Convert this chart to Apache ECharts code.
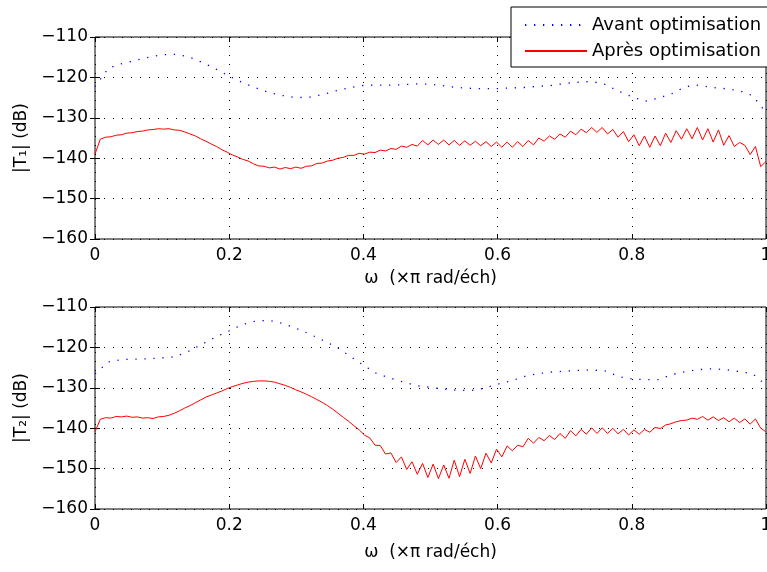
<!DOCTYPE html>
<html><head><meta charset="utf-8">
<script src="https://cdn.jsdelivr.net/npm/echarts@6/dist/echarts.min.js"></script>
<style>html,body{margin:0;padding:0;background:#fff}#c{width:767px;height:572px}</style>
</head><body><div id="c"></div>
<script>
// ---- data ----
const seriesNames = ['Avant optimisation', 'Après optimisation'];
const xName = 'ω  (×π rad/éch)';
const yNames = ['|T₁| (dB)', '|T₂| (dB)'];
const xTicks = {min: 0, max: 1, interval: 0.2};
const yTicks = {min: -160, max: -110, interval: 10};

// red curves: 128 frequency samples over [0, 1]
const nRed = 128;
const topRed = [-139.0,-135.3,-134.8,-134.7,-134.3,-134.2,-133.8,-133.7,-133.4,-133.3,
 -133.0,-132.9,-132.7,-132.8,-132.7,-133.0,-133.1,-133.5,-134.0,-134.5,
 -135.2,-135.8,-136.5,-137.1,-137.9,-138.5,-139.2,-139.7,-140.3,-140.7,
 -141.4,-141.9,-142.0,-142.4,-142.2,-142.7,-142.3,-142.6,-142.2,-142.5,
 -142.0,-141.9,-141.3,-141.2,-140.7,-140.5,-140.0,-139.8,-139.3,-139.3,
 -138.8,-139.0,-138.5,-138.6,-138.0,-138.2,-137.6,-137.8,-137.0,-137.3,
 -136.6,-137.0,-135.6,-136.7,-135.5,-136.6,-135.5,-136.7,-135.6,-136.8,
 -135.7,-136.8,-135.8,-136.9,-135.9,-137.1,-136.0,-137.3,-136.0,-137.3,
 -135.9,-137.1,-135.6,-136.7,-135.0,-135.8,-134.5,-135.3,-134.0,-134.8,
 -133.3,-134.2,-132.8,-133.7,-132.4,-133.6,-132.4,-134.0,-132.9,-134.8,
 -133.4,-135.9,-134.2,-136.9,-134.5,-137.3,-134.5,-136.9,-133.8,-136.1,
 -133.2,-135.3,-132.7,-135.2,-132.4,-135.5,-132.7,-136.0,-133.0,-136.8,
 -134.4,-137.1,-136.1,-136.8,-139.1,-137.1,-142.1,-140.8];
const bottomRed = [-140.9,-137.8,-137.4,-137.5,-137.1,-137.2,-137.0,-137.3,-137.2,-137.5,
 -137.4,-137.6,-137.2,-137.1,-136.8,-136.3,-135.7,-135.0,-134.4,-133.7,
 -133.0,-132.3,-131.8,-131.3,-130.8,-130.2,-129.7,-129.3,-128.9,-128.6,
 -128.4,-128.3,-128.3,-128.4,-128.6,-129.0,-129.4,-129.9,-130.5,-131.0,
 -131.6,-132.2,-132.9,-133.6,-134.4,-135.3,-136.3,-137.3,-138.3,-139.4,
 -140.4,-141.7,-142.4,-144.2,-144.3,-146.4,-146.1,-148.5,-147.1,-150.2,
 -148.3,-151.4,-148.7,-152.2,-148.9,-152.5,-149.1,-152.4,-147.9,-152.0,
 -147.7,-151.2,-146.9,-150.0,-146.2,-148.6,-145.2,-147.1,-144.4,-145.6,
 -144.2,-144.6,-142.5,-143.7,-142.3,-143.1,-141.8,-142.8,-141.3,-142.5,
 -140.6,-141.9,-140.3,-141.5,-139.9,-141.3,-139.9,-141.3,-140.0,-141.4,
 -140.3,-141.7,-140.4,-141.5,-140.3,-141.0,-139.8,-140.1,-139.2,-138.9,
 -138.4,-138.1,-138.0,-137.5,-137.8,-137.1,-138.0,-137.2,-138.1,-137.4,
 -138.4,-137.5,-138.6,-137.7,-139.0,-137.7,-140.0,-140.9];

// blue curves: 51 frequency samples over [0, 1]
const nBlue = 51;
const topBlue = [-122.3,-117.7,-116.6,-115.8,-115.0,-114.4,-114.3,-114.9,-116.3,-117.9,
 -119.7,-121.3,-122.6,-123.8,-124.5,-125.0,-124.9,-124.2,-123.3,-122.5,
 -122.0,-121.9,-121.9,-121.8,-121.6,-121.7,-122.1,-122.5,-122.7,-122.8,
 -122.8,-122.6,-122.5,-122.2,-122.0,-121.5,-121.2,-121.0,-121.7,-123.4,
 -124.8,-125.9,-125.1,-124.0,-122.3,-121.9,-122.5,-122.8,-123.3,-124.5,
 -128.7];
const bottomBlue = [-126.5,-123.6,-123.0,-122.9,-122.8,-122.6,-122.3,-120.9,-119.2,-117.4,
 -115.9,-114.3,-113.5,-113.3,-114.1,-115.3,-116.7,-118.3,-119.9,-122.2,
 -124.4,-126.5,-127.6,-128.6,-129.5,-129.9,-130.3,-130.6,-130.7,-130.1,
 -129.1,-128.3,-127.2,-126.5,-126.1,-125.9,-125.7,-125.6,-125.8,-127.2,
 -127.8,-128.0,-128.0,-126.7,-126.0,-125.5,-125.3,-125.5,-126.0,-126.5,
 -129.3];

// ---- chart ----
const freqRed = Array.from({length: nRed}, (_, i) => i / (nRed - 1));
const freqBlue = Array.from({length: nBlue}, (_, i) => i / (nBlue - 1));
const pairs = (xs, ys) => xs.map((x, i) => [x, ys[i]]);

const FONT = 'DejaVu Sans';
const txt = {color: '#000', fontFamily: FONT, fontSize: 17};
const dotted = {show: true, lineStyle: {color: '#000', width: 1, type: [1, 8]}};
const tickIn = {show: true, inside: true, length: 5, lineStyle: {color: '#000', width: 1}};
const minus = v => String(v).replace('-', '\u2212');

function xAxes(g, gap) {
  return [
    Object.assign({gridIndex: g, type: 'value', position: 'bottom',
      axisLine: {show: false}, axisTick: tickIn,
      axisLabel: Object.assign({margin: 8, formatter: v => String(v)}, txt),
      splitLine: dotted, name: xName, nameLocation: 'middle', nameGap: gap,
      nameTextStyle: txt}, xTicks),
    Object.assign({gridIndex: g, type: 'value', position: 'top',
      axisLine: {show: false}, axisTick: tickIn, axisLabel: {show: false},
      splitLine: {show: false}}, xTicks)
  ];
}
function yAxes(g) {
  return [
    Object.assign({gridIndex: g, type: 'value', position: 'left',
      axisLine: {show: false}, axisTick: tickIn,
      axisLabel: Object.assign({margin: 7, formatter: minus}, txt),
      splitLine: dotted, name: yNames[g], nameLocation: 'middle', nameGap: 58,
      nameRotate: 90, nameTextStyle: txt}, yTicks),
    Object.assign({gridIndex: g, type: 'value', position: 'right',
      axisLine: {show: false}, axisTick: tickIn, axisLabel: {show: false},
      splitLine: {show: false}}, yTicks)
  ];
}
function blue(name, xi, yi, vals) {
  return {type: 'line', name, xAxisIndex: xi, yAxisIndex: yi, data: pairs(freqBlue, vals),
    symbol: 'none', showSymbol: false, itemStyle: {color: '#0000ff'},
    lineStyle: {color: '#0000ff', width: 1.3, type: [1.3, 7.7]}, z: 3};
}
function red(name, xi, yi, vals) {
  return {type: 'line', name, xAxisIndex: xi, yAxisIndex: yi, data: pairs(freqRed, vals),
    symbol: 'none', showSymbol: false, itemStyle: {color: '#ff0000'},
    lineStyle: {color: '#ff0000', width: 1}, z: 3};
}

const gridBase = {left: 95, right: 1, height: 202, show: true, borderColor: '#000',
  borderWidth: 1, backgroundColor: 'transparent', outerBoundsMode: 'none', containLabel: false};

const chart = echarts.init(document.getElementById('c'), null, {renderer: 'canvas'});
chart.setOption({
  animation: false,
  backgroundColor: '#fff',
  grid: [
    Object.assign({top: 37}, gridBase),
    Object.assign({top: 307}, gridBase)
  ],
  legend: {
    data: seriesNames, orient: 'vertical', left: 511, top: 7,
    padding: [8, 20, 6, 13], itemWidth: 62, itemHeight: 20, itemGap: 6,
    backgroundColor: '#fff', borderColor: '#000', borderWidth: 1, borderRadius: 0,
    itemStyle: {opacity: 0, borderWidth: 0},
    textStyle: {color: '#000', fontFamily: FONT, fontSize: 18, lineHeight: 20},
    selectedMode: false, z: 10
  },
  xAxis: xAxes(0, 31).concat(xAxes(1, 35)),
  yAxis: yAxes(0).concat(yAxes(1)),
  series: [
    blue(seriesNames[0], 0, 0, topBlue),
    red(seriesNames[1], 0, 0, topRed),
    blue(seriesNames[0], 2, 2, bottomBlue),
    red(seriesNames[1], 2, 2, bottomRed)
  ]
});
</script></body></html>
